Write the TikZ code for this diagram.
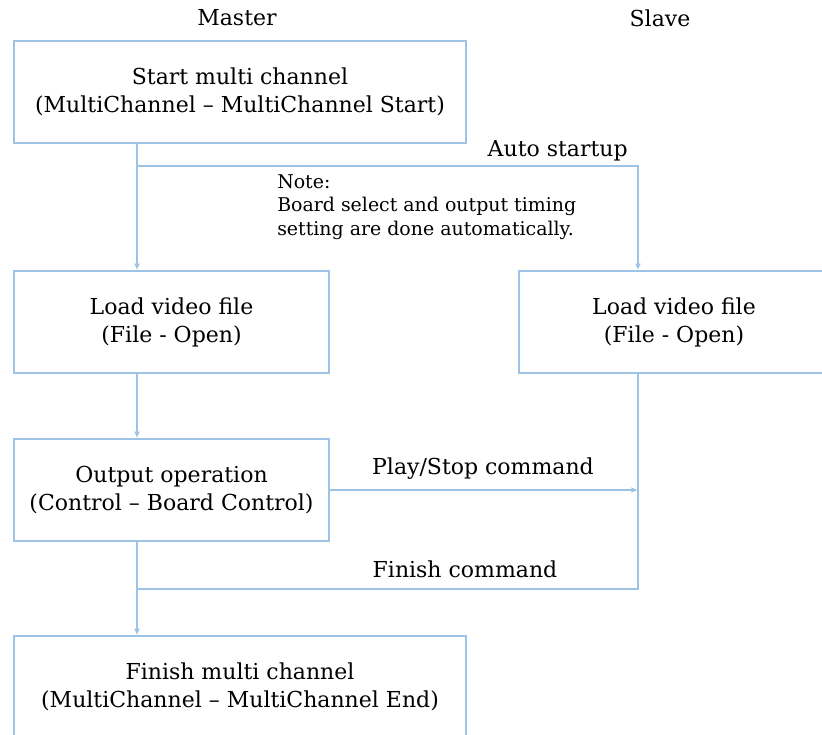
\documentclass[tikz,border=0pt]{standalone}
\usepackage{fontspec}
\setmainfont{DejaVu Serif}
\usetikzlibrary{arrows.meta}
\definecolor{lineblue}{RGB}{157,195,230}
\begin{document}
\begin{tikzpicture}[x=0.75pt,y=-0.75pt,
  box/.style={draw=lineblue,line width=1.2pt,align=center,inner sep=0pt,
    font=\fontsize{16.5}{21}\selectfont},
  conn/.style={draw=lineblue,line width=1.2pt},
  arr/.style={conn,-{Latex[length=5pt,width=4.5pt]}},
  lbl/.style={font=\fontsize{16.5}{21}\selectfont,inner sep=0pt},
  notetext/.style={font=\fontsize{14.2}{17.8}\selectfont,align=left,inner sep=0pt}]
\useasboundingbox (0,0) rectangle (822,735);
\node[lbl] (master) at (237,18) {Master};
\node[lbl] (slave) at (660,18) {Slave};
\node[box,minimum width=339pt,minimum height=76.5pt] (start) at (240,92)
  {Start multi channel\\(MultiChannel -- MultiChannel Start)};
\node[box,minimum width=236.25pt,minimum height=76.5pt] (load1) at (171.5,322)
  {Load video file\\(File - Open)};
\node[box,minimum width=232.5pt,minimum height=76.5pt] (load2) at (674,322)
  {Load video file\\(File - Open)};
\node[box,minimum width=236.25pt,minimum height=76.5pt] (out) at (171.5,490)
  {Output operation\\(Control -- Board Control)};
\node[box,minimum width=339pt,minimum height=76.5pt] (fin) at (240,687)
  {Finish multi channel\\(MultiChannel -- MultiChannel End)};
\coordinate (j1) at (137,166);
\coordinate (j2) at (638,166);
\coordinate (j3) at (638,589);
\coordinate (j4) at (137,589);
\draw[arr] (start.south -| j1) -- (load1.north -| j1);
\draw[arr] (j1) -- (j2) -- (load2.north -| j2);
\draw[arr] (load1.south -| j1) -- (out.north -| j1);
\draw[arr] (out.east) -- (out.east -| j2);
\draw[conn] (load2.south -| j2) -- (j3) -- (j4);
\draw[arr] (out.south -| j1) -- (fin.north -| j1);
\node[lbl,anchor=east] (auto) at (628,151) {Auto startup};
\node[notetext,anchor=north west] (note) at (277,174)
  {Note:\\Board select and output timing\\setting are done automatically.};
\node[lbl] (play) at (483,469) {Play/Stop command};
\node[lbl] (finc) at (465,569) {Finish command};
\end{tikzpicture}
\end{document}
